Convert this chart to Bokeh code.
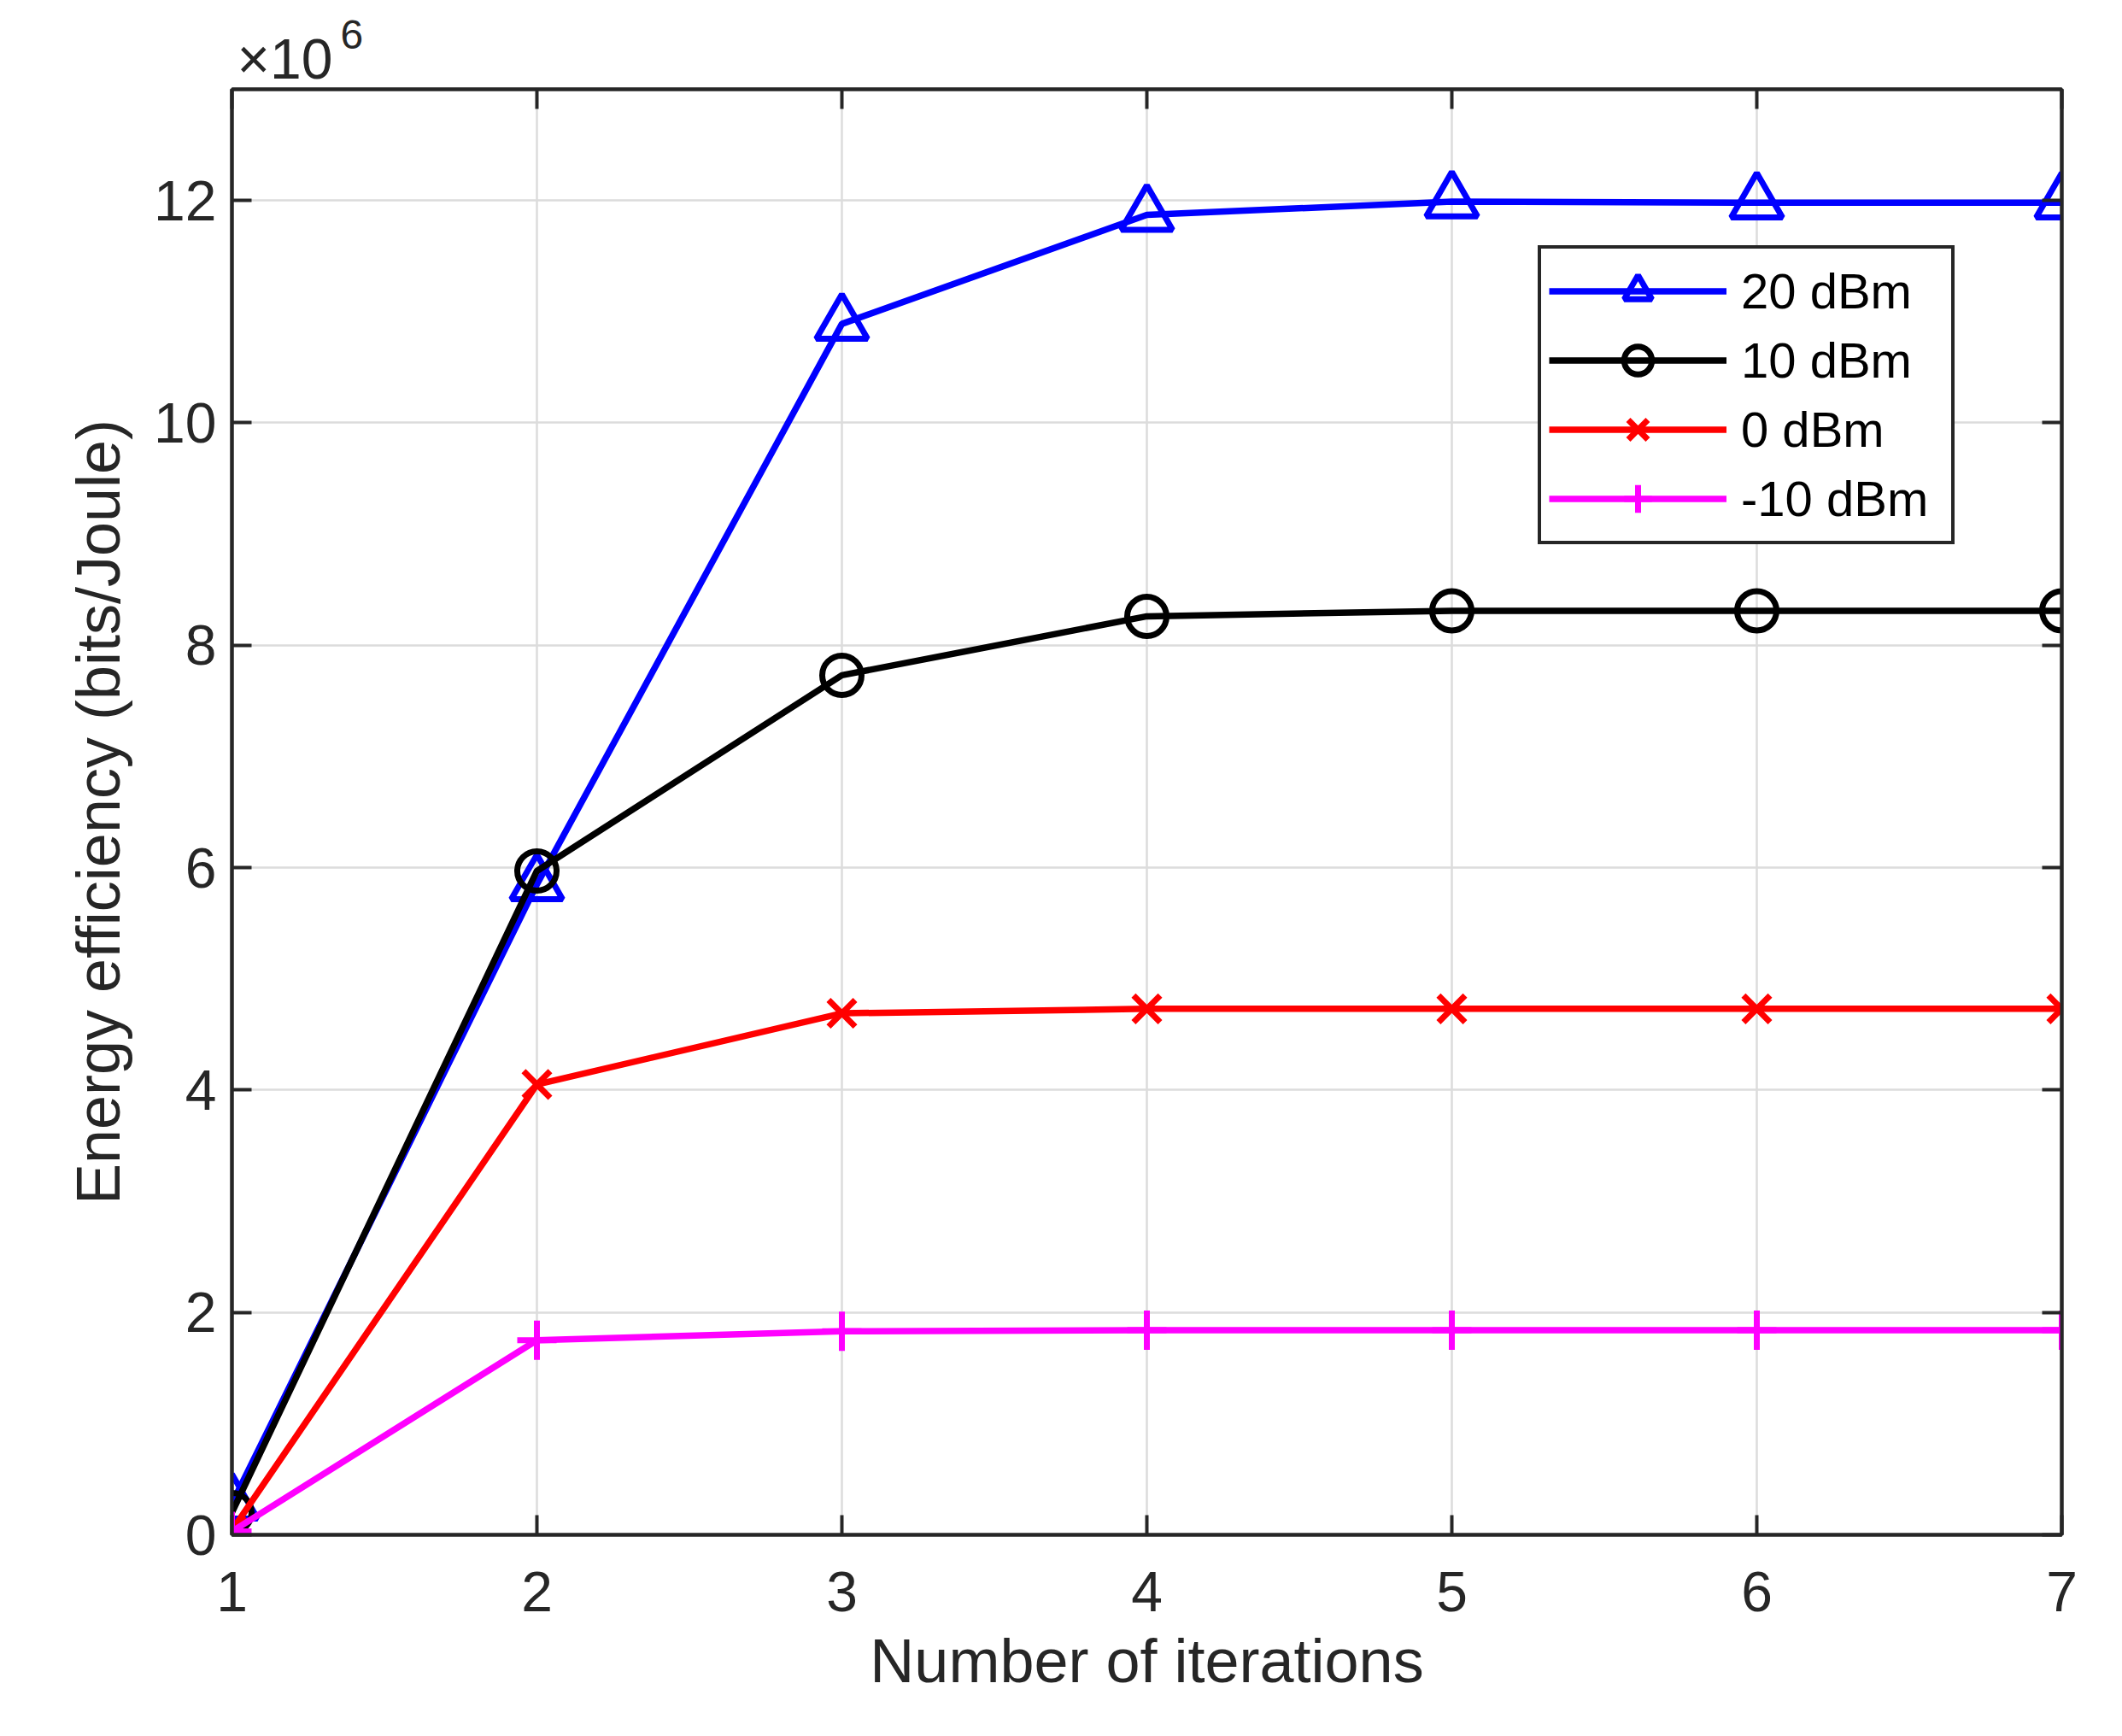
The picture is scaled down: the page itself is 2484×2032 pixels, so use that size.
from bokeh.plotting import figure
from bokeh.models import (Range1d, FixedTicker, LinearAxis, Legend, LegendItem, Label)
from bokeh.embed import file_html
from bokeh.resources import INLINE

# ---- data (energy efficiency in units of 1e6 bits/Joule) ----
iterations = [1, 2, 3, 4, 5, 6, 7]
ee_20dBm = [0.28, 5.85, 10.89, 11.87, 11.99, 11.98, 11.98]
ee_10dBm = [0.20, 5.97, 7.73, 8.26, 8.31, 8.31, 8.31]
ee_0dBm = [0.04, 4.05, 4.69, 4.73, 4.73, 4.73, 4.73]
ee_m10dBm = [0.03, 1.75, 1.83, 1.84, 1.84, 1.84, 1.84]

series_labels = ["20 dBm", "10 dBm", "0 dBm", "-10 dBm"]
series_values = [ee_20dBm, ee_10dBm, ee_0dBm, ee_m10dBm]
series_colors = ["#0000FF", "#000000", "#FF0000", "#FF00FF"]
series_markers = ["triangle", "circle", "x", "cross"]
series_msizes = [60, 46, 44, 46]

x_ticks = [1, 2, 3, 4, 5, 6, 7]
y_ticks = [0, 2, 4, 6, 8, 10, 12]

FONT = "Liberation Sans"
TXT = "#262626"

p = figure(width=2468, height=2016, output_backend="svg", toolbar_location=None,
           x_range=Range1d(1, 7), y_range=Range1d(0, 13),
           min_border_left=271, min_border_right=55, min_border_top=104,
           min_border_bottom=220)

p.background_fill_color = "white"
p.border_fill_color = "white"
p.outline_line_color = TXT
p.outline_line_width = 4

for g in (p.xgrid[0], p.ygrid[0]):
    g.grid_line_color = "#dcdcdc"
    g.grid_line_width = 2.5
p.xgrid[0].ticker = FixedTicker(ticks=x_ticks)
p.ygrid[0].ticker = FixedTicker(ticks=y_ticks)

def style_axis(ax, show_labels=True):
    ax.axis_line_color = TXT
    ax.axis_line_width = 4
    ax.major_tick_line_color = TXT
    ax.major_tick_line_width = 4
    ax.major_tick_in = 23
    ax.major_tick_out = 0
    ax.minor_tick_line_color = None
    ax.major_label_text_font = FONT
    ax.major_label_text_color = TXT
    if show_labels:
        ax.major_label_text_font_size = "66px"
    else:
        ax.major_label_text_font_size = "0px"
        ax.major_label_text_alpha = 0
        ax.major_label_standoff = 0

xa = p.xaxis[0]
ya = p.yaxis[0]
xa.ticker = FixedTicker(ticks=x_ticks)
ya.ticker = FixedTicker(ticks=y_ticks)
style_axis(xa)
style_axis(ya)
xa.major_label_standoff = 43
ya.major_label_standoff = 18
xa.axis_label = "Number of iterations"
ya.axis_label = "Energy efficiency (bits/Joule)"
for ax in (xa, ya):
    ax.axis_label_text_font = FONT
    ax.axis_label_text_font_size = "72px"
    ax.axis_label_text_font_style = "normal"
    ax.axis_label_text_color = TXT
xa.axis_label_standoff = 15
ya.axis_label_standoff = 22

ra = LinearAxis(ticker=FixedTicker(ticks=y_ticks))
ta = LinearAxis(ticker=FixedTicker(ticks=x_ticks))
style_axis(ra, False)
style_axis(ta, False)
p.add_layout(ra, "right")
p.add_layout(ta, "above")

items = []
for lab, vals, col, mk, ms in zip(series_labels, series_values, series_colors,
                                  series_markers, series_msizes):
    lr = p.line(iterations, vals, line_color=col, line_width=7.5)
    sr = p.scatter(iterations, vals, marker=mk, size=ms, line_color=col,
                   line_width=7, fill_color=None)
    items.append(LegendItem(label=lab, renderers=[lr, sr]))

legend = Legend(items=items, location=(1529, 1159),
                glyph_width=208, glyph_height=81, label_height=81,
                label_width=237, spacing=0, padding=9, margin=0,
                label_standoff=17,
                label_text_font=FONT, label_text_font_size="58px",
                label_text_color="#000000",
                border_line_color=TXT, border_line_width=4, border_line_alpha=1.0,
                background_fill_color="white", background_fill_alpha=1.0)
p.add_layout(legend)

# y-axis exponent "×10^6" at the top-left (placed in side panels so it is not clipped)
exp_base = Label(x=1, y=13, x_offset=6, y_offset=36, text="×10",
                 text_font=FONT, text_font_size="66px", text_color=TXT,
                 text_baseline="alphabetic")
exp_pow = Label(x=1, y=13, x_offset=127, y_offset=64, text="6",
                text_font=FONT, text_font_size="48px", text_color=TXT,
                text_baseline="alphabetic")
p.add_layout(exp_base, "above")
p.add_layout(exp_pow, "left")

open("out.html", "w").write(file_html(p, INLINE))
